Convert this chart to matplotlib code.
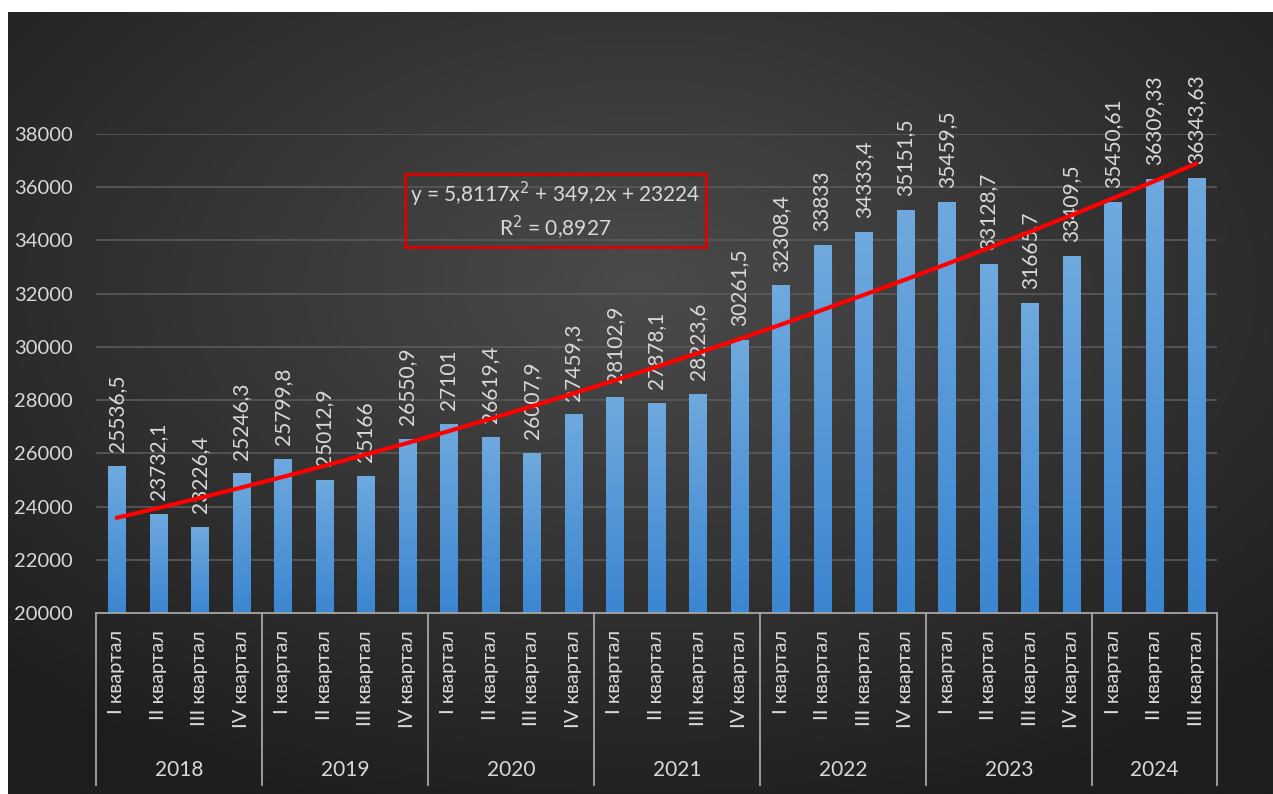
import numpy as np
import matplotlib.pyplot as plt
from matplotlib.colors import LinearSegmentedColormap
import matplotlib.transforms as mtransforms

years = ['2018', '2019', '2020', '2021', '2022', '2023', '2024']
quarters_per_year = [4, 4, 4, 4, 4, 4, 3]
quarter_names = ['I квартал', 'II квартал', 'III квартал', 'IV квартал']
values = [25536.5, 23732.1, 23226.4, 25246.3,
          25799.8, 25012.9, 25166, 26550.9,
          27101, 26619.4, 26007.9, 27459.3,
          28102.9, 27878.1, 28223.6, 30261.5,
          32308.4, 33833, 34333.4, 35151.5,
          35459.5, 33128.7, 31665.7, 33409.5,
          35450.61, 36309.33, 36343.63]
y_ticks = [20000, 22000, 24000, 26000, 28000, 30000, 32000, 34000, 36000, 38000]
trend_text = 'y = 5,8117x$^2$ + 349,2x + 23224\nR$^2$ = 0,8927'

TEXT = '#d9d9d9'
plt.rcParams['font.family'] = ['Lato', 'DejaVu Sans']

fig = plt.figure(figsize=(12.73, 7.94), dpi=100)
fig.patch.set_facecolor('white')

# radial dark background
bg = fig.add_axes([8 / 1273, 0, 1 - 8 / 1273, 1 - 12 / 794])
bg.set_axis_off()
gx, gy = np.meshgrid(np.linspace(-1, 1, 400), np.linspace(-1, 1, 300))
r = np.sqrt((gx / 1.1) ** 2 + ((gy + 0.3) / 1.1) ** 2)
bg_cmap = LinearSegmentedColormap.from_list('bg', ['#4b4b4b', '#343434', '#1e1e1e'])
bg.imshow(r, cmap=bg_cmap, aspect='auto', extent=(0, 1, 0, 1), vmin=0, vmax=1.3)
bg.set_xlim(0, 1)
bg.set_ylim(0, 1)

ax = fig.add_axes([96 / 1273, 1 - 613 / 794, 1121 / 1273, 479 / 794])
ax.patch.set_alpha(0)
n = len(values)
x = np.arange(n)
ax.set_xlim(-0.5, n - 0.5)
ax.set_ylim(20000, 38000)

for t in y_ticks[1:]:
    ax.axhline(t, color='#5a5a5a', lw=1.2, zorder=1)

bar_cmap = LinearSegmentedColormap.from_list('bar', ['#3b86d1', '#6fa9de'])
grad = np.linspace(0, 1, 256).reshape(-1, 1)
bars = ax.bar(x, values, width=0.42, color='none', zorder=2)
for b in bars:
    x0, w, h = b.get_x(), b.get_width(), b.get_height()
    im = ax.imshow(grad, cmap=bar_cmap, aspect='auto', origin='lower',
                   extent=(x0, x0 + w, 20000, h), zorder=2)
    im.set_clip_path(b)

for xi, v in zip(x, values):
    lbl = f'{v:.10g}'.replace('.', ',')
    ax.annotate(lbl, (xi, v), xytext=(0, 10), textcoords='offset points',
                rotation=90, ha='center', va='bottom', color=TEXT,
                fontsize=15, annotation_clip=False, zorder=3)

# polynomial trend line
coef = np.polyfit(x + 1, values, 2)
ax.plot(x, np.polyval(coef, x + 1), color='#ff0000', lw=3, zorder=4,
        solid_capstyle='round')

ax.text(0.41, 0.839, trend_text, transform=ax.transAxes, ha='center', va='center',
        color=TEXT, fontsize=15, linespacing=1.2, zorder=5,
        bbox=dict(boxstyle='square,pad=0.25', facecolor='none',
                  edgecolor='#e00000', linewidth=2))

ax.set_yticks(y_ticks)
ax.set_yticklabels([str(t) for t in y_ticks], color=TEXT, fontsize=14.5)
ax.tick_params(axis='y', length=0, pad=16.5)
ax.set_xticks([])
for s in ax.spines.values():
    s.set_visible(False)

# category axis with grouped labels
trans = mtransforms.blended_transform_factory(ax.transData, ax.transAxes)
ax.plot([-0.5, n - 0.5], [0, 0], transform=trans, color='#a6a6a6', lw=1.3,
        clip_on=False, zorder=3)
bottom = -172 / 479
pos = -0.5
idx = 0
edges = [pos]
for year, cnt in zip(years, quarters_per_year):
    for q in range(cnt):
        ax.text(idx, -17 / 479, quarter_names[q], transform=trans, rotation=90,
                ha='center', va='top', color=TEXT, fontsize=14.5)
        idx += 1
    ax.text(pos + cnt / 2, -157 / 479, year, transform=trans, ha='center',
            va='center', color=TEXT, fontsize=15)
    pos += cnt
    edges.append(pos)
for e in edges:
    ax.plot([e, e], [0, bottom], transform=trans, color='#a6a6a6', lw=1.3,
            clip_on=False, zorder=3)

fig.savefig('out.png', dpi=100)
